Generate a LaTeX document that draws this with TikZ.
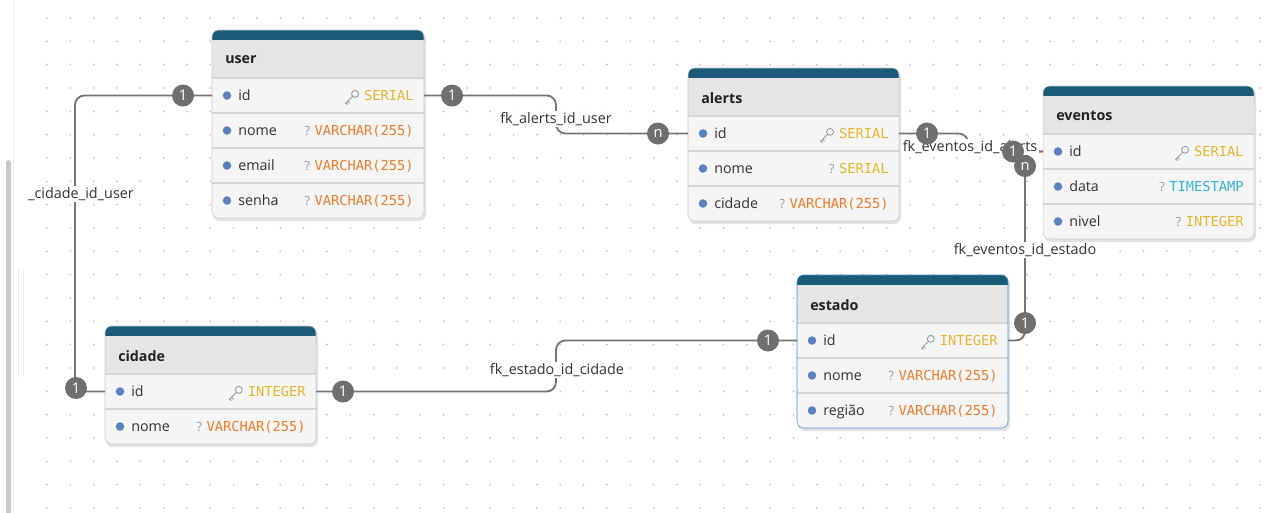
\documentclass[tikz,border=0pt]{standalone}
\usepackage{fontspec}
\setsansfont{Open Sans}
\setmonofont{DejaVu Sans Mono}
\usetikzlibrary{calc}
\definecolor{teal}{HTML}{1B5B77}
\definecolor{headbg}{HTML}{E5E5E8}
\definecolor{rowbg}{HTML}{F5F5F6}
\definecolor{sepcol}{HTML}{D6D6D8}
\definecolor{bordcol}{HTML}{CDCDCF}
\definecolor{selcol}{HTML}{4F8FE0}
\definecolor{dotblue}{HTML}{5A82C0}
\definecolor{gold}{HTML}{E8B62C}
\definecolor{orng}{HTML}{F07D2A}
\definecolor{cyan}{HTML}{32B4D2}
\definecolor{icongray}{HTML}{9A9A9A}
\definecolor{fieldtxt}{HTML}{333333}
\definecolor{titletxt}{HTML}{222222}
\definecolor{conncol}{HTML}{767676}
\definecolor{badgecol}{HTML}{6F6F6F}
\definecolor{lbltxt}{HTML}{333333}
\definecolor{gridcol}{HTML}{C4C4C4}
\definecolor{shadowcol}{HTML}{E2E2E2}
\definecolor{scrollcol}{HTML}{C9C9C9}
\tikzset{
 fld/.style={font=\sffamily\fontsize{10.7}{12}\selectfont, text=fieldtxt, inner sep=0pt},
 ttl/.style={font=\sffamily\bfseries\fontsize{10.7}{12}\selectfont, text=titletxt, inner sep=0pt},
 typ/.style={font=\ttfamily\fontsize{10.3}{12}\selectfont, inner sep=0pt},
 qm/.style={font=\sffamily\fontsize{9.5}{11}\selectfont, text=icongray, inner sep=0pt},
 conn/.style={draw=conncol, line width=1.4pt, rounded corners=7pt},
 badge/.style={circle, fill=badgecol, text=white, minimum size=16.5pt, inner sep=0pt, font=\sffamily\fontsize{11}{12}\selectfont},
 lbl/.style={fill=white, inner sep=1pt, font=\sffamily\fontsize{10.8}{12}\selectfont, text=lbltxt},
 keyline/.style={draw=icongray, line width=0.65pt},
}
% #1 name, #2 L, #3 T, #4 W, #5 nrows, #6 title, #7 border colour
\newcommand\ertable[7]{%
 \pgfmathsetmacro\erB{#3+48+#5*35}%
 \pgfmathsetmacro\erR{#2+#4}%
 \fill[shadowcol, rounded corners=5pt] (#2+1,#3+2) rectangle (\erR+2,\erB+3);
 \fill[rowbg, rounded corners=5pt] (#2,#3) rectangle (\erR,\erB);
 \fill[teal, rounded corners=5pt] (#2,#3) rectangle (\erR,#3+20);
 \fill[headbg] (#2,#3+10) rectangle (\erR,#3+48);
 \foreach \k in {1,...,#5} {\draw[sepcol, line width=0.8pt] (#2,#3+48+\k*35-35) -- ++(#4,0);}
 \draw[#7, rounded corners=5pt] (#2,#3) rectangle (\erR,\erB);
 \node[ttl, anchor=west] (#1) at (#2+13,#3+30) {#6};
}
% #1 name, #2 L, #3 y, #4 W, #5 field, #6 key(1/0), #7 colour, #8 type
\newcommand\errow[8]{%
 \coordinate (#1-w) at (#2,#3);
 \coordinate (#1-e) at (#2+#4,#3);
 \fill[dotblue] (#2+15,#3) circle[radius=3.2pt];
 \node[fld, anchor=base west] (#1) at (#2+26,#3+5) {#5};
 \node[typ, text=#7, anchor=base east] (#1-t) at (#2+#4-10,#3+5) {#8};
 \ifnum#6=1
  \coordinate (#1-k) at ([xshift=-6.6pt,yshift=5pt]#1-t.base west);
  \draw[keyline] (#1-k) circle[radius=2.6pt];
  \draw[keyline] ($(#1-k)+(-1.85pt,-1.85pt)$) -- ++(-5.4pt,-5.4pt);
  \draw[keyline] ($(#1-k)+(-5.6pt,-5.6pt)$) -- ++(1.5pt,-1.5pt);
  \draw[keyline] ($(#1-k)+(-6.8pt,-6.8pt)$) -- ++(1.3pt,-1.3pt);
 \else
  \node[qm, anchor=base east] (#1-q) at ([xshift=-3pt]#1-t.base west) {?};
 \fi
}
\begin{document}
\begin{tikzpicture}[x=0.75pt,y=-0.75pt]
\fill[white] (0,0) rectangle (1280,512);
\useasboundingbox (0,0) rectangle (1280,512);
% grid
\foreach \i in {0,...,52} {\foreach \j in {0,...,21} {\fill[gridcol] (47+\i*23.33,18+\j*23.33) circle[radius=0.75pt];}}
% left scroll area
\draw[black!8, line width=0.6pt] (13,0) -- (13,512);
\draw[black!7, line width=0.5pt] (18,270) -- (18,377);
\draw[black!7, line width=0.5pt] (23,270) -- (23,377);
\fill[scrollcol, rounded corners=2pt] (6,160) rectangle (11,515);
% tables
\ertable{user}{212}{30}{212}{4}{user}{bordcol}
\errow{user-id}{212}{95.5}{212}{id}{1}{gold}{SERIAL}
\errow{user-nome}{212}{130.5}{212}{nome}{0}{orng}{VARCHAR(255)}
\errow{user-email}{212}{165.5}{212}{email}{0}{orng}{VARCHAR(255)}
\errow{user-senha}{212}{200.5}{212}{senha}{0}{orng}{VARCHAR(255)}

\ertable{alerts}{688}{68}{211}{3}{alerts}{bordcol}
\errow{alerts-id}{688}{133.5}{211}{id}{1}{gold}{SERIAL}
\errow{alerts-nome}{688}{168.5}{211}{nome}{0}{gold}{SERIAL}
\errow{alerts-cidade}{688}{203.5}{211}{cidade}{0}{orng}{VARCHAR(255)}

\ertable{eventos}{1043}{86}{211}{3}{eventos}{bordcol}
\errow{eventos-id}{1043}{151.5}{211}{id}{1}{gold}{SERIAL}
\errow{eventos-data}{1043}{186.5}{211}{data}{0}{cyan}{TIMESTAMP}
\errow{eventos-nivel}{1043}{221.5}{211}{nivel}{0}{gold}{INTEGER}

\ertable{estado}{797}{275}{211}{3}{estado}{selcol}
\errow{estado-id}{797}{340.5}{211}{id}{1}{gold}{INTEGER}
\errow{estado-nome}{797}{375.5}{211}{nome}{0}{orng}{VARCHAR(255)}
\errow{estado-regiao}{797}{410.5}{211}{região}{0}{orng}{VARCHAR(255)}

\ertable{cidade}{105}{326}{211}{2}{cidade}{bordcol}
\errow{cidade-id}{105}{391.5}{211}{id}{1}{gold}{INTEGER}
\errow{cidade-nome}{105}{426.5}{211}{nome}{0}{orng}{VARCHAR(255)}

% badge positions
\coordinate (p-u1) at (183,95.5);
\coordinate (p-c1) at (76,388);
\coordinate (p-u2) at (452,95.5);
\coordinate (p-a1) at (658,133.5);
\coordinate (p-a2) at (927,133.5);
\coordinate (p-e1) at (1013,151.5);
\coordinate (p-e2) at (1025,166);
\coordinate (p-s1) at (1025,323);
\coordinate (p-c2) at (343,391.5);
\coordinate (p-s2) at (768,340.5);
% bend points
\coordinate (k1a) at (75,95.5);
\coordinate (k1b) at (75,391.5);
\coordinate (k2a) at (556,95.5);
\coordinate (k2b) at (556,133.5);
\coordinate (k3a) at (968,133.5);
\coordinate (k3b) at (968,151.5);
\coordinate (k4a) at (1025,340.5);
\coordinate (k4b) at (1025,151.5);
\coordinate (k5a) at (556,391.5);
\coordinate (k5b) at (556,340.5);

% connectors
\draw[conn] (user-id-w) -- (p-u1) -- (k1a) -- (k1b) -- (cidade-id-w);
\draw[conn] (user-id-e) -- (p-u2) -- (k2a) -- (k2b) -- (p-a1) -- (alerts-id-w);
\draw[conn] (alerts-id-e) -- (p-a2) -- (k3a) -- (k3b) -- (p-e1) -- (eventos-id-w);
\draw[conn] (estado-id-e) -- (k4a) -- (p-s1) -- (p-e2) -- (k4b) -- (eventos-id-w);
\draw[conn] (cidade-id-e) -- (p-c2) -- (k5a) -- (k5b) -- (p-s2) -- (estado-id-w);

% labels
\node[lbl] (l1) at (81,194) {\_cidade\_id\_user};
\node[lbl] (l2) at (556,119) {fk\_alerts\_id\_user};
\node[lbl] (l3) at (970,147) {fk\_eventos\_id\_alerts};
\node[lbl] (l4) at (1025,250) {fk\_eventos\_id\_estado};
\node[lbl] (l5) at (557,370) {fk\_estado\_id\_cidade};

% badges
\node[badge] (b-u1) at (p-u1) {1};
\node[badge] (b-c1) at (p-c1) {1};
\node[badge] (b-u2) at (p-u2) {1};
\node[badge] (b-a1) at (p-a1) {n};
\node[badge] (b-a2) at (p-a2) {1};
\node[badge] (b-e1) at (p-e1) {1};
\node[badge] (b-e2) at (p-e2) {n};
\node[badge] (b-s1) at (p-s1) {1};
\node[badge] (b-c2) at (p-c2) {1};
\node[badge] (b-s2) at (p-s2) {1};
\end{tikzpicture}
\end{document}
